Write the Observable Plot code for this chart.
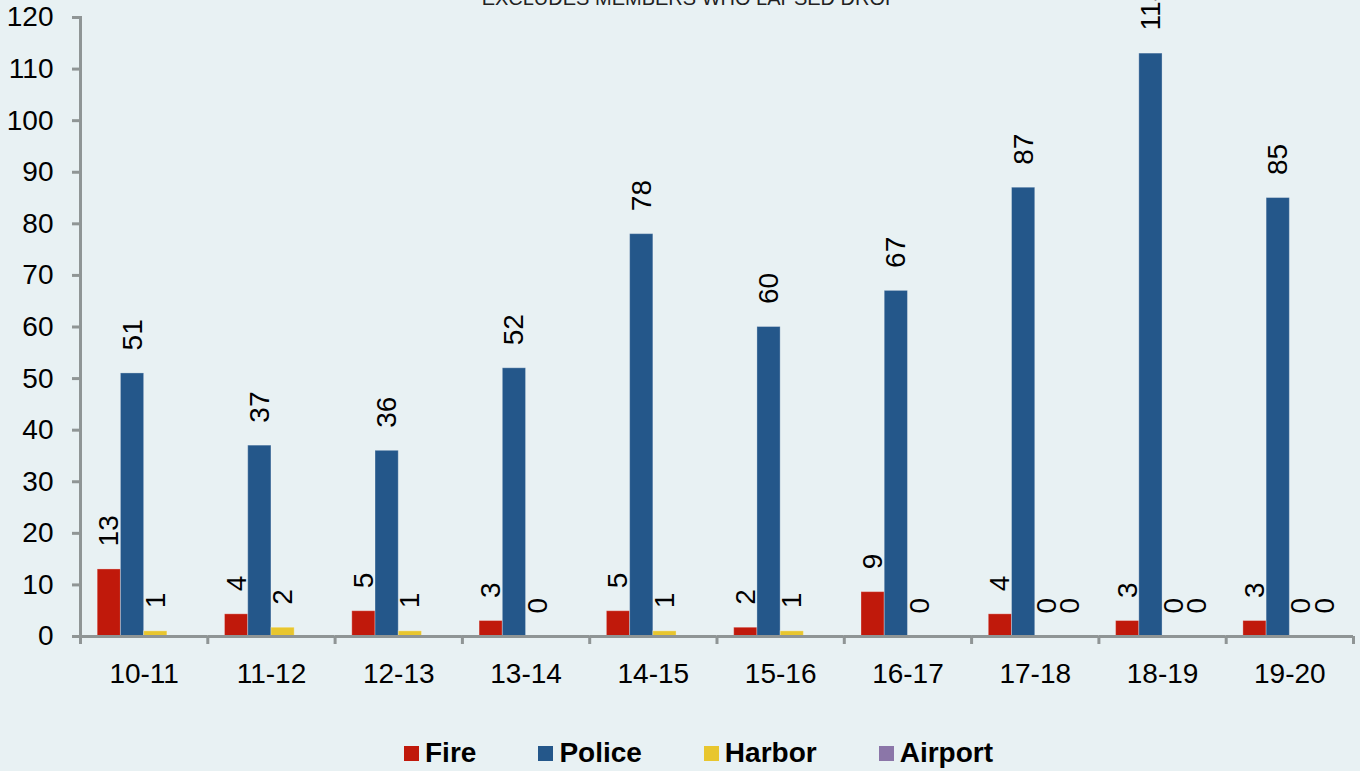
<!DOCTYPE html>
<html>
<head>
<meta charset="utf-8">
<script src="https://cdn.jsdelivr.net/npm/d3@7"></script>
<script src="https://cdn.jsdelivr.net/npm/@observablehq/plot@0.6"></script>
<style>
  html, body { margin: 0; padding: 0; background: #e8f1f3; width: 1360px; height: 771px; overflow: hidden; position: relative; font-family: "Liberation Sans", Arial, sans-serif; }
  #title { position: absolute; top: -12px; left: 0; width: 1360px; padding-left: 20px; box-sizing: border-box; text-align: center; font-size: 20px; line-height: 20px; color: #222; white-space: nowrap; }
  #chart { position: absolute; top: 0; left: 0; }
  #legend { position: absolute; top: 735px; left: 0; width: 1360px; height: 36px; padding-left: 37px; box-sizing: border-box; display: flex; justify-content: center; align-items: center; font-weight: bold; font-size: 28px; line-height: 36px; color: #000; }
  .item { display: flex; align-items: center; margin: 0 31px; }
  .sw { width: 15px; height: 15px; margin-right: 6px; }
</style>
</head>
<body>
<div id="title">EXCLUDES MEMBERS WHO LAPSED DROP</div>
<div id="chart"></div>
<div id="legend"></div>
<script>
const categories = ["10-11", "11-12", "12-13", "13-14", "14-15", "15-16", "16-17", "17-18", "18-19", "19-20"];
const series = ["Fire", "Police", "Harbor", "Airport"];
const fire    = [13, 4.3, 4.9, 3, 4.9, 1.7, 8.6, 4.3, 3, 3];
const police  = [51, 37, 36, 52, 78, 60, 67, 87, 113, 85];
const harbor  = [1, 1.7, 1, 0, 1, 1, 0, 0, 0, 0];
const airport = [null, null, null, null, null, null, null, 0, 0, 0];
const colors  = ["#c0190b", "#24578a", "#e8c62e", "#8b76a8"];
const yTicks  = [0, 10, 20, 30, 40, 50, 60, 70, 80, 90, 100, 110, 120];

const values = [fire, police, harbor, airport];
const rows = [];
categories.forEach((c, i) => {
  series.forEach((s, j) => {
    const v = values[j][i];
    if (v != null) rows.push({cat: c, series: s, value: v});
  });
});

const W = 1360, H = 720, mL = 80, mR = 7, mT = 17, mB = 84;
const step = (W - mL - mR) / categories.length;
const gray = "#8f9595";

const chart = Plot.plot({
  width: W, height: H,
  marginLeft: mL, marginRight: mR, marginTop: mT, marginBottom: mB,
  style: {background: "transparent", fontFamily: "'Liberation Sans', Arial, sans-serif", fontSize: "28px", color: "#000", overflow: "visible"},
  fx: {domain: categories, padding: 0, round: false, label: null},
  x: {domain: series, paddingInner: 0, paddingOuter: 0.74, round: false, axis: null},
  y: {domain: [0, 120]},
  color: {domain: series, range: colors},
  marks: [
    Plot.frame({anchor: "left", facetAnchor: "left", stroke: gray, strokeWidth: 3}),
    Plot.axisY({ticks: yTicks, tickSize: 8, tickPadding: 19, stroke: gray, strokeWidth: 3, fill: "#000", fontSize: 28, label: null}),
    Plot.barY(rows, {fx: "cat", x: "series", y: "value", fill: "series", stroke: "#ffffff", strokeOpacity: 0.3, strokeWidth: 1}),
    Plot.ruleY([0], {stroke: gray, strokeWidth: 3}),
    Plot.axisFx({anchor: "bottom", tickSize: 0, tickPadding: 27, fontSize: 28, fill: "#000", label: null}),
    Plot.axisFx({anchor: "bottom", tickSize: 8, tickFormat: () => "", stroke: gray, strokeWidth: 3, dx: -step / 2, label: null}),
    Plot.axisFx({anchor: "bottom", ticks: [categories[categories.length - 1]], tickSize: 8, tickFormat: () => "", stroke: gray, strokeWidth: 3, dx: step / 2, label: null}),
    Plot.text(rows, {fx: "cat", x: "series", y: "value", text: d => String(Math.round(d.value)), rotate: -90, textAnchor: "start", lineAnchor: "middle", dy: -23, fontSize: 28, fill: "#000"})
  ]
});
document.getElementById("chart").appendChild(chart);

const legend = document.getElementById("legend");
series.forEach((s, j) => {
  const it = document.createElement("div");
  it.className = "item";
  const sw = document.createElement("span");
  sw.className = "sw";
  sw.style.background = colors[j];
  const t = document.createElement("span");
  t.textContent = s;
  it.appendChild(sw);
  it.appendChild(t);
  legend.appendChild(it);
});
</script>
</body>
</html>
